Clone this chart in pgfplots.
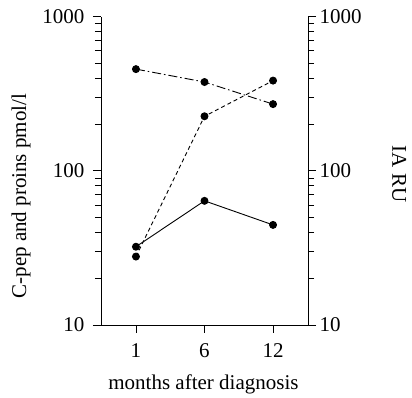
\documentclass[border=0pt]{standalone}
\usepackage{fontspec}
\setmainfont{Liberation Serif}
\usepackage{pgfplots}
\pgfplotsset{compat=1.18}
\newcommand{\bigf}{\fontsize{21}{25}\selectfont}
\begin{document}
\begin{tikzpicture}
\begin{axis}[
  scale only axis, width=207pt, height=308.3pt,
  xmin=-0.51, xmax=2.51,
  ymode=log, ymin=10, ymax=1000,
  ytick={10,100,1000}, yticklabels={10,100,1000},
  tick align=outside,
  major tick length=8pt, minor tick length=6pt,
  every tick/.style={black, line width=0.8pt},
  axis line style={-, line width=0.9pt},
  tick label style={font=\bigf},
  yticklabel style={xshift=-5pt},
  xticklabel style={yshift=-7pt},
  axis y line*=left, axis x line*=bottom,
  xtick={0,1,2}, xticklabels={1,6,12},
  xlabel={months after diagnosis},
  ylabel={C-pep and proins pmol/l},
  every axis x label/.style={at={(rel axis cs:0.495,-0.193)}, anchor=center, font=\bigf},
  every axis y label/.style={at={(rel axis cs:-0.386,0.418)}, rotate=90, anchor=center, font=\bigf},
]
\addplot[black, line width=0.9pt, mark=*, mark size=3.5pt] coordinates {(0,32.2) (1,63.9) (2,44.6)};
\addplot[black, line width=0.9pt, dash pattern=on 4pt off 3pt, mark=*, mark size=3.5pt, mark options={solid}] coordinates {(0,27.8) (1,226) (2,385)};
\addplot[black, line width=0.9pt, dash pattern=on 9pt off 3pt on 1.5pt off 3pt, mark=*, mark size=3.5pt, mark options={solid}] coordinates {(0,457) (1,377) (2,271)};
\end{axis}
\begin{axis}[
  scale only axis, width=207pt, height=308.3pt,
  xmin=-0.51, xmax=2.51,
  ymode=log, ymin=10, ymax=1000,
  ytick={10,100,1000}, yticklabels={10,100,1000},
  tick align=outside,
  major tick length=8pt, minor tick length=6pt,
  every tick/.style={black, line width=0.8pt},
  axis line style={-, line width=0.9pt},
  tick label style={font=\bigf},
  axis y line*=right, axis x line=none,
  xtick=\empty,
  ylabel={IA RU},
  every axis y label/.style={at={(rel axis cs:1.44,0.49)}, rotate=-90, anchor=center, font=\bigf},
]
\end{axis}
\pgfresetboundingbox
\path[use as bounding box] (-101pt,-72pt) rectangle (311pt,325pt);
\end{tikzpicture}
\end{document}
